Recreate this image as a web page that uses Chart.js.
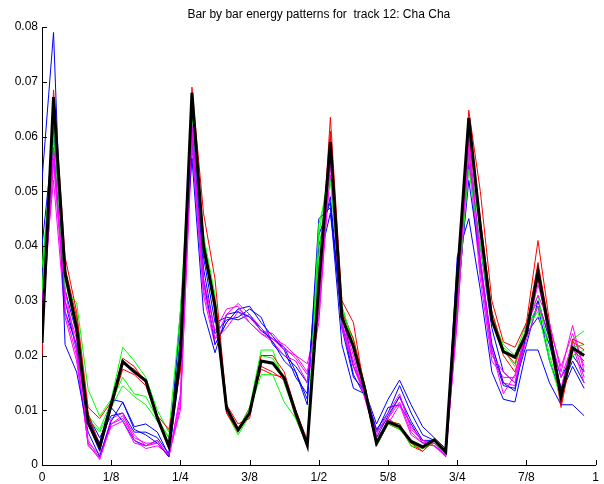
<!DOCTYPE html>
<html>
<head>
<meta charset="utf-8">
<title>Bar by bar energy patterns</title>
<script src="https://cdn.jsdelivr.net/npm/chart.js@4.4.1/dist/chart.umd.min.js"></script>
<style>
    html, body { margin: 0; padding: 0; background: #fff; }
    #wrap { width: 604px; height: 484px; }
</style>
</head>
<body>
<div id="wrap"><canvas id="energyChart" width="604" height="484"></canvas></div>
<script>
// ============================================
// Data: 48 steps per bar, one series per bar
// ============================================
const stepsPerBar = 48;
const xTickLabels = ["0", "1/8", "1/4", "3/8", "1/2", "5/8", "3/4", "7/8", "1"];
const yTickLabels = ["0", "0.01", "0.02", "0.03", "0.04", "0.05", "0.06", "0.07", "0.08"];
const chartTitle = "Bar by bar energy patterns for  track 12: Cha Cha";

// mean pattern (thick black)
const meanBar = [
    0.0223, 0.0672, 0.035, 0.025, 0.0077, 0.0033, 0.011, 0.0189, 0.017, 0.0154, 0.0086, 0.0034,
    0.020, 0.068, 0.040, 0.029, 0.0104, 0.0064, 0.0095, 0.019, 0.0186, 0.0159, 0.0095, 0.0036,
    0.033, 0.059, 0.027, 0.0216, 0.0137, 0.004, 0.0079, 0.007, 0.0043, 0.0033, 0.0046, 0.0024,
    0.034, 0.0634, 0.0435, 0.0265, 0.0207, 0.0197, 0.024, 0.0353, 0.024, 0.0125, 0.0214, 0.020,
];

const blueBar1 = [
    0.052, 0.079, 0.022, 0.017, 0.006, 0.0015, 0.008, 0.0115, 0.0065, 0.0055, 0.004, 0.0015,
    0.028, 0.056, 0.028, 0.0205, 0.0275, 0.028, 0.027, 0.025, 0.0225, 0.019, 0.017, 0.011,
    0.045, 0.047, 0.022, 0.014, 0.013, 0.0065, 0.0095, 0.0145, 0.0095, 0.0055, 0.0045, 0.002,
    0.038, 0.045, 0.032, 0.017, 0.012, 0.0115, 0.021, 0.021, 0.015, 0.011, 0.011, 0.009,
];
const blueBar2 = [
    0.040, 0.060, 0.030, 0.021, 0.0085, 0.004, 0.012, 0.0115, 0.007, 0.0075, 0.006, 0.0018,
    0.024, 0.060, 0.034, 0.022, 0.026, 0.0285, 0.029, 0.026, 0.0235, 0.021, 0.016, 0.013,
    0.042, 0.048, 0.025, 0.016, 0.0135, 0.0075, 0.012, 0.0155, 0.011, 0.007, 0.005, 0.003,
    0.030, 0.052, 0.037, 0.022, 0.015, 0.0135, 0.024, 0.027, 0.022, 0.014, 0.019, 0.015,
];
const blueBar3 = [
    0.030, 0.058, 0.032, 0.024, 0.009, 0.005, 0.009, 0.0095, 0.006, 0.006, 0.005, 0.002,
    0.018, 0.062, 0.036, 0.024, 0.0265, 0.027, 0.0285, 0.027, 0.022, 0.020, 0.018, 0.015,
    0.037, 0.046, 0.028, 0.018, 0.0135, 0.005, 0.009, 0.0125, 0.008, 0.0045, 0.0045, 0.0025,
    0.028, 0.055, 0.040, 0.025, 0.017, 0.015, 0.022, 0.030, 0.023, 0.016, 0.020, 0.017,
];
const blueBar4 = [
    0.034, 0.062, 0.028, 0.022, 0.0075, 0.0025, 0.0105, 0.008, 0.0045, 0.0035, 0.0045, 0.0015,
    0.020, 0.065, 0.038, 0.026, 0.027, 0.0265, 0.0275, 0.0245, 0.023, 0.0215, 0.017, 0.012,
    0.040, 0.049, 0.026, 0.0165, 0.0125, 0.006, 0.0105, 0.011, 0.0075, 0.004, 0.0035, 0.0018,
    0.035, 0.058, 0.036, 0.021, 0.0145, 0.014, 0.025, 0.029, 0.019, 0.013, 0.018, 0.014,
];

const greenBar1 = [
    0.036, 0.060, 0.0317, 0.0297, 0.0138, 0.0089, 0.012, 0.0215, 0.019, 0.016, 0.010, 0.006,
    0.028, 0.064, 0.042, 0.031, 0.011, 0.006, 0.010, 0.0165, 0.0165, 0.0115, 0.0085, 0.0035,
    0.044, 0.052, 0.029, 0.022, 0.014, 0.0035, 0.0075, 0.0065, 0.004, 0.003, 0.004, 0.002,
    0.030, 0.054, 0.040, 0.026, 0.0215, 0.0195, 0.025, 0.028, 0.019, 0.012, 0.023, 0.0245,
];
const greenBar2 = [
    0.032, 0.063, 0.036, 0.026, 0.009, 0.0065, 0.0115, 0.016, 0.013, 0.0125, 0.0085, 0.005,
    0.025, 0.066, 0.041, 0.030, 0.0105, 0.0065, 0.0105, 0.021, 0.021, 0.015, 0.009, 0.004,
    0.042, 0.056, 0.028, 0.023, 0.0145, 0.0045, 0.008, 0.0075, 0.0035, 0.003, 0.0045, 0.0025,
    0.032, 0.058, 0.042, 0.027, 0.022, 0.020, 0.026, 0.031, 0.020, 0.013, 0.0215, 0.022,
];
const greenBar3 = [
    0.030, 0.065, 0.034, 0.024, 0.0085, 0.006, 0.0105, 0.0145, 0.0125, 0.011, 0.008, 0.005,
    0.022, 0.067, 0.039, 0.029, 0.0095, 0.0055, 0.009, 0.020, 0.0195, 0.016, 0.0095, 0.0045,
    0.038, 0.058, 0.029, 0.022, 0.0135, 0.004, 0.008, 0.0065, 0.0045, 0.0035, 0.004, 0.0025,
    0.036, 0.061, 0.044, 0.028, 0.021, 0.018, 0.025, 0.029, 0.022, 0.0125, 0.020, 0.021,
];

const redBar1 = [
    0.020, 0.0685, 0.038, 0.028, 0.0105, 0.0085, 0.0115, 0.0195, 0.018, 0.015, 0.009, 0.0065,
    0.017, 0.069, 0.046, 0.034, 0.011, 0.0075, 0.0085, 0.020, 0.020, 0.017, 0.010, 0.0045,
    0.030, 0.0635, 0.030, 0.026, 0.013, 0.004, 0.008, 0.0075, 0.004, 0.0025, 0.0045, 0.0025,
    0.033, 0.0648, 0.050, 0.030, 0.0225, 0.0215, 0.026, 0.041, 0.026, 0.011, 0.023, 0.022,
];
const redBar2 = [
    0.022, 0.066, 0.036, 0.027, 0.0095, 0.0035, 0.0115, 0.0185, 0.0175, 0.0155, 0.009, 0.0035,
    0.019, 0.067, 0.041, 0.030, 0.0095, 0.006, 0.0095, 0.018, 0.017, 0.0155, 0.0095, 0.0035,
    0.032, 0.061, 0.028, 0.023, 0.0145, 0.0035, 0.0075, 0.0065, 0.0045, 0.003, 0.004, 0.002,
    0.030, 0.062, 0.045, 0.028, 0.021, 0.0185, 0.025, 0.037, 0.025, 0.013, 0.0225, 0.021,
];
const redBar3 = [
    0.024, 0.065, 0.035, 0.026, 0.009, 0.003, 0.0105, 0.0175, 0.0165, 0.0145, 0.0085, 0.003,
    0.020, 0.066, 0.040, 0.028, 0.0095, 0.0065, 0.0105, 0.0175, 0.0165, 0.016, 0.0085, 0.0035,
    0.031, 0.060, 0.027, 0.022, 0.013, 0.0035, 0.0085, 0.007, 0.0035, 0.0025, 0.0045, 0.002,
    0.031, 0.060, 0.044, 0.027, 0.020, 0.017, 0.024, 0.034, 0.023, 0.0105, 0.021, 0.019,
];

const magentaBar1 = [
    0.028, 0.058, 0.030, 0.023, 0.0045, 0.0012, 0.0075, 0.009, 0.0055, 0.0035, 0.004, 0.0018,
    0.012, 0.062, 0.032, 0.023, 0.0275, 0.0295, 0.0275, 0.025, 0.023, 0.021, 0.020, 0.017,
    0.028, 0.057, 0.026, 0.019, 0.0125, 0.0055, 0.0095, 0.013, 0.0065, 0.0045, 0.004, 0.0015,
    0.028, 0.060, 0.038, 0.021, 0.013, 0.0165, 0.025, 0.031, 0.026, 0.017, 0.0255, 0.017,
];
const magentaBar2 = [
    0.026, 0.055, 0.032, 0.021, 0.0035, 0.0015, 0.0085, 0.0095, 0.0045, 0.003, 0.0035, 0.002,
    0.010, 0.060, 0.034, 0.0245, 0.0285, 0.029, 0.026, 0.024, 0.0225, 0.020, 0.019, 0.015,
    0.026, 0.055, 0.025, 0.018, 0.0135, 0.0065, 0.0085, 0.0115, 0.006, 0.004, 0.0035, 0.0018,
    0.026, 0.058, 0.036, 0.020, 0.017, 0.015, 0.023, 0.029, 0.024, 0.016, 0.022, 0.015,
];
const magentaBar3 = [
    0.030, 0.052, 0.027, 0.019, 0.004, 0.002, 0.007, 0.008, 0.004, 0.0035, 0.0045, 0.0015,
    0.011, 0.058, 0.031, 0.022, 0.026, 0.0285, 0.027, 0.0245, 0.024, 0.0215, 0.0195, 0.0165,
    0.030, 0.053, 0.027, 0.020, 0.012, 0.005, 0.0075, 0.011, 0.0055, 0.004, 0.0045, 0.002,
    0.029, 0.056, 0.034, 0.019, 0.016, 0.016, 0.024, 0.033, 0.025, 0.018, 0.024, 0.018,
];
const magentaBar4 = [
    0.024, 0.056, 0.028, 0.020, 0.0038, 0.001, 0.0075, 0.0085, 0.005, 0.004, 0.004, 0.0015,
    0.013, 0.061, 0.033, 0.023, 0.025, 0.028, 0.026, 0.024, 0.023, 0.022, 0.020, 0.0185,
    0.027, 0.056, 0.026, 0.018, 0.0125, 0.006, 0.0085, 0.0125, 0.007, 0.0045, 0.0035, 0.0015,
    0.027, 0.059, 0.037, 0.022, 0.015, 0.0145, 0.026, 0.030, 0.023, 0.014, 0.023, 0.016,
];

// ============================================
// Helpers
// ============================================
function toPoints(values) {
    return values.map((v, i) => ({ x: i / stepsPerBar, y: v }));
}

function line(values, color, width) {
    return {
        data: toPoints(values),
        borderColor: color,
        borderWidth: width,
        pointRadius: 0,
        fill: false,
        tension: 0,
    };
}

// inward tick marks like matlab + title centered over the plot
const matlabAxes = {
    id: "matlabAxes",
    afterDraw(chart) {
        const { ctx, chartArea, scales } = chart;
        ctx.save();
        ctx.strokeStyle = "#000";
        ctx.lineWidth = 1;
        ctx.beginPath();
        scales.x.ticks.forEach((t) => {
            const px = Math.round(scales.x.getPixelForValue(t.value)) + 0.5;
            ctx.moveTo(px, chartArea.bottom);
            ctx.lineTo(px, chartArea.bottom - 5);
        });
        scales.y.ticks.forEach((t) => {
            const py = Math.round(scales.y.getPixelForValue(t.value)) + 0.5;
            ctx.moveTo(chartArea.left, py);
            ctx.lineTo(chartArea.left + 5, py);
        });
        ctx.stroke();

        ctx.fillStyle = "#000";
        ctx.font = "12px 'Liberation Sans', Arial, sans-serif";
        ctx.textAlign = "center";
        ctx.textBaseline = "middle";
        ctx.fillText(chartTitle, (chartArea.left + chartArea.right) / 2, 15);
        ctx.restore();
    },
};

// ============================================
// Chart
// ============================================
const tickFont = { family: "'Liberation Sans', Arial, sans-serif", size: 12 };

new Chart(document.getElementById("energyChart").getContext("2d"), {
    type: "line",
    data: {
        datasets: [
            line(meanBar, "#000000", 3),
            line(magentaBar1, "#FF00FF", 1),
            line(redBar1, "#FF0000", 1),
            line(greenBar1, "#00FF00", 1),
            line(blueBar1, "#0000FF", 1),
            line(magentaBar2, "#FF00FF", 1),
            line(redBar2, "#FF0000", 1),
            line(greenBar2, "#00FF00", 1),
            line(blueBar2, "#0000FF", 1),
            line(magentaBar3, "#FF00FF", 1),
            line(redBar3, "#FF0000", 1),
            line(greenBar3, "#00FF00", 1),
            line(blueBar3, "#0000FF", 1),
            line(magentaBar4, "#FF00FF", 1),
            line(blueBar4, "#0000FF", 1),
        ],
    },
    options: {
        responsive: false,
        animation: false,
        events: [],
        layout: { padding: { top: 27, right: 6, left: 0, bottom: 0 } },
        plugins: {
            legend: { display: false },
            title: { display: false },
            tooltip: { enabled: false },
        },
        scales: {
            x: {
                type: "linear",
                min: 0,
                max: 1,
                afterFit: (s) => { s.height = 19; },
                afterBuildTicks: (s) => {
                    s.ticks = xTickLabels.map((_, i) => ({ value: i / 8 }));
                },
                grid: { drawOnChartArea: false, drawTicks: false },
                border: { display: true, color: "#000", width: 1 },
                ticks: {
                    padding: 5,
                    color: "#000",
                    font: tickFont,
                    maxRotation: 0,
                    autoSkip: false,
                    callback: (v) => xTickLabels[Math.round(v * 8)],
                },
            },
            y: {
                type: "linear",
                min: 0,
                max: 0.08,
                afterFit: (s) => { s.width = 42; },
                afterBuildTicks: (s) => {
                    s.ticks = yTickLabels.map((_, i) => ({ value: i / 100 }));
                },
                grid: { drawOnChartArea: false, drawTicks: false },
                border: { display: true, color: "#000", width: 1 },
                ticks: {
                    padding: 4,
                    color: "#000",
                    font: tickFont,
                    autoSkip: false,
                    callback: (v) => yTickLabels[Math.round(v * 100)],
                },
            },
        },
    },
    plugins: [matlabAxes],
});
</script>
</body>
</html>
